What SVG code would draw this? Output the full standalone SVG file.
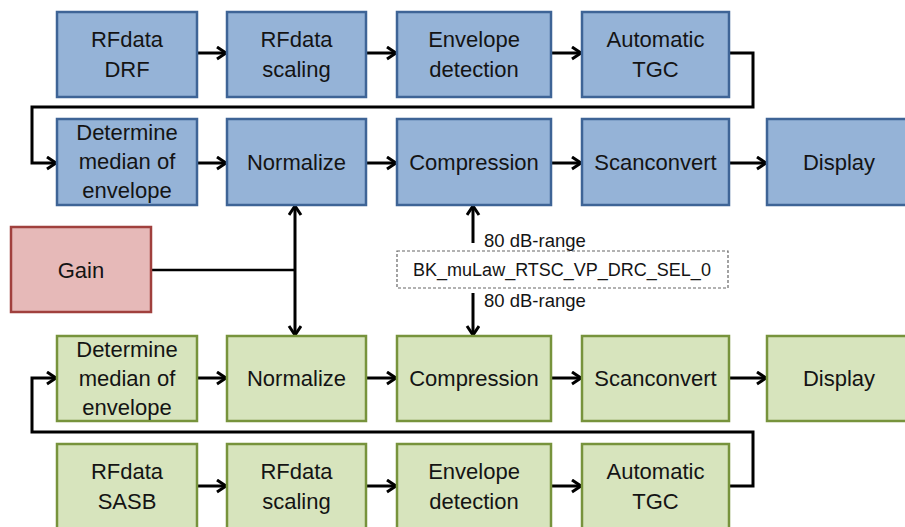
<svg xmlns="http://www.w3.org/2000/svg" width="905" height="527" viewBox="0 0 905 527">
<style>
.b{fill:#95B3D7;stroke:#3E6496;stroke-width:2.5}
.g{fill:#D7E4BD;stroke:#77933C;stroke-width:2.5}
.r{fill:#E6B9B8;stroke:#A0403D;stroke-width:2.5}
text{font-family:"Liberation Sans",Arial,sans-serif;font-size:22px;fill:#141414;text-anchor:middle}
.s{font-size:18.5px;text-anchor:start}
.c{fill:none;stroke:#000;stroke-width:3}
.t{fill:none;stroke:#000;stroke-width:2.5}
</style>
<defs>
<marker id="a" markerUnits="userSpaceOnUse" markerWidth="16" markerHeight="16" refX="11" refY="7" orient="auto">
<path d="M2,1 L11,7 L2,13" fill="none" stroke="#000" stroke-width="3"/>
</marker>
<marker id="as" markerUnits="userSpaceOnUse" markerWidth="16" markerHeight="16" refX="11" refY="7" orient="auto-start-reverse">
<path d="M2,1 L11,7 L2,13" fill="none" stroke="#000" stroke-width="3"/>
</marker>
</defs>

<g id="connectors">
<line class="c" x1="197" y1="53" x2="226" y2="53" marker-end="url(#a)"/>
<line class="c" x1="366" y1="53" x2="396" y2="53" marker-end="url(#a)"/>
<line class="c" x1="551" y1="53" x2="581" y2="53" marker-end="url(#a)"/>
<polyline class="c" points="729,53 753,53 753,107 32,107 32,163 56,163" marker-end="url(#a)"/>
<line class="c" x1="197" y1="163" x2="226" y2="163" marker-end="url(#a)"/>
<line class="c" x1="366" y1="163" x2="396" y2="163" marker-end="url(#a)"/>
<line class="c" x1="551" y1="163" x2="581" y2="163" marker-end="url(#a)"/>
<line class="c" x1="729" y1="163" x2="766" y2="163" marker-end="url(#a)"/>
<line class="t" x1="151" y1="270" x2="295" y2="270"/>
<line class="c" x1="295" y1="206" x2="295" y2="335" marker-start="url(#as)" marker-end="url(#a)"/>
<line class="c" x1="473" y1="243" x2="473" y2="206" marker-end="url(#a)"/>
<line class="c" x1="473" y1="293" x2="473" y2="335" marker-end="url(#a)"/>
<line class="c" x1="197" y1="378" x2="226" y2="378" marker-end="url(#a)"/>
<line class="c" x1="366" y1="378" x2="396" y2="378" marker-end="url(#a)"/>
<line class="c" x1="551" y1="378" x2="581" y2="378" marker-end="url(#a)"/>
<line class="c" x1="729" y1="378" x2="766" y2="378" marker-end="url(#a)"/>
<polyline class="c" points="729,486 753,486 753,432 32,432 32,378 56,378" marker-end="url(#a)"/>
<line class="c" x1="197" y1="486" x2="226" y2="486" marker-end="url(#a)"/>
<line class="c" x1="366" y1="486" x2="396" y2="486" marker-end="url(#a)"/>
<line class="c" x1="551" y1="486" x2="581" y2="486" marker-end="url(#a)"/>
</g>

<g id="b1"><rect class="b" x="57" y="12" width="140" height="85"/><text x="127" y="47">RFdata</text><text x="127" y="77">DRF</text></g>
<g id="b2"><rect class="b" x="227" y="12" width="139" height="85"/><text x="296.5" y="47">RFdata</text><text x="296.5" y="77">scaling</text></g>
<g id="b3"><rect class="b" x="397" y="12" width="154" height="85"/><text x="474" y="47">Envelope</text><text x="474" y="77">detection</text></g>
<g id="b4"><rect class="b" x="582" y="12" width="147" height="85"/><text x="655.5" y="47">Automatic</text><text x="655.5" y="77">TGC</text></g>

<g id="b5"><rect class="b" x="57" y="119" width="140" height="86"/><text x="127" y="140">Determine</text><text x="127" y="169">median of</text><text x="127" y="198">envelope</text></g>
<g id="b6"><rect class="b" x="227" y="119" width="139" height="86"/><text x="296.5" y="170">Normalize</text></g>
<g id="b7"><rect class="b" x="397" y="119" width="154" height="86"/><text x="474" y="170">Compression</text></g>
<g id="b8"><rect class="b" x="582" y="119" width="147" height="86"/><text x="655.5" y="170">Scanconvert</text></g>
<g id="b9"><rect class="b" x="767" y="119" width="145" height="86"/><text x="839" y="170">Display</text></g>

<g id="gain"><rect class="r" x="11" y="227" width="140" height="85"/><text x="81" y="278">Gain</text></g>

<g id="drc">
<rect x="397" y="251" width="331" height="37" fill="none" stroke="#666" stroke-width="1.2" stroke-dasharray="3,2"/>
<text x="562" y="276" style="font-size:18px">BK_muLaw_RTSC_VP_DRC_SEL_0</text>
<text class="s" x="484" y="247">80 dB-range</text>
<text class="s" x="484" y="307">80 dB-range</text>
</g>

<g id="g1"><rect class="g" x="57" y="336" width="140" height="85"/><text x="127" y="357">Determine</text><text x="127" y="386">median of</text><text x="127" y="415">envelope</text></g>
<g id="g2"><rect class="g" x="227" y="336" width="139" height="85"/><text x="296.5" y="386">Normalize</text></g>
<g id="g3"><rect class="g" x="397" y="336" width="154" height="85"/><text x="474" y="386">Compression</text></g>
<g id="g4"><rect class="g" x="582" y="336" width="147" height="85"/><text x="655.5" y="386">Scanconvert</text></g>
<g id="g5"><rect class="g" x="767" y="336" width="145" height="85"/><text x="839" y="386">Display</text></g>

<g id="g6"><rect class="g" x="57" y="444" width="140" height="90"/><text x="127" y="479">RFdata</text><text x="127" y="509">SASB</text></g>
<g id="g7"><rect class="g" x="227" y="444" width="139" height="90"/><text x="296.5" y="479">RFdata</text><text x="296.5" y="509">scaling</text></g>
<g id="g8"><rect class="g" x="397" y="444" width="154" height="90"/><text x="474" y="479">Envelope</text><text x="474" y="509">detection</text></g>
<g id="g9"><rect class="g" x="582" y="444" width="147" height="90"/><text x="655.5" y="479">Automatic</text><text x="655.5" y="509">TGC</text></g>
</svg>
